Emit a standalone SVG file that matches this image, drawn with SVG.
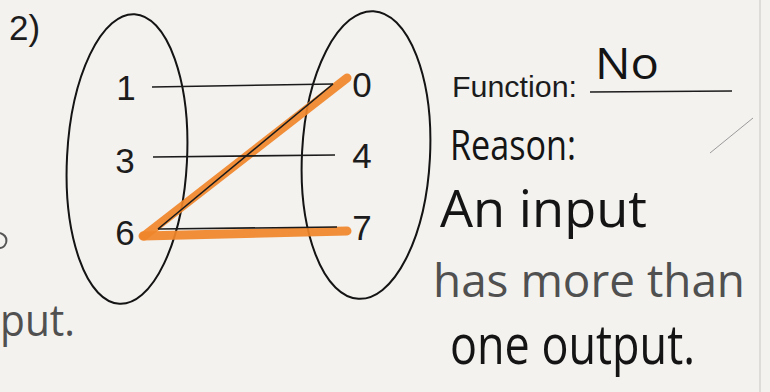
<svg xmlns="http://www.w3.org/2000/svg" width="770" height="392" viewBox="0 0 770 392">
  <style>
    .set { fill: none; stroke: #141414; stroke-width: 2; }
    .num { font-family: "Liberation Sans", Arial, sans-serif; font-size: 35px; fill: #1c1c1c; text-anchor: middle; }
    .print { font-family: "Liberation Sans", Arial, sans-serif; fill: #1c1c1c; }
    .hand { font-family: "Open Sans", "DejaVu Sans", sans-serif; font-weight: 400; fill: #141414; }
    .pencil { font-family: "Open Sans", "DejaVu Sans", sans-serif; font-weight: 400; fill: #505050; }
    .map { stroke: #1a1a1a; stroke-width: 1.6; fill: none; }
    .hl { stroke: #F0862A; stroke-width: 9; stroke-linecap: round; fill: none; opacity: 0.92; }
  </style>
  <rect width="770" height="392" fill="#F3F2EF"/>
  <line x1="760" y1="0" x2="760" y2="392" stroke="#d6d5d2" stroke-width="1.5"/>
  <line x1="710" y1="153" x2="753" y2="118" stroke="#9a9a9a" stroke-width="1"/>
  <path d="M0 233 Q8 236 6 243 Q4 248 0 248" fill="none" stroke="#555" stroke-width="2"/>

  <text class="print" x="9" y="40" font-size="35" fill="#333">2)</text>

  <g id="domain">
    <ellipse class="set" cx="127" cy="159" rx="60" ry="145" transform="rotate(3 127 159)"/>
  </g>
  <g id="range">
    <ellipse class="set" cx="366" cy="155" rx="64" ry="144" transform="rotate(3 366 155)"/>
  </g>

  <g id="connectors">
    <path class="hl" d="M144 236 L347 78"/>
    <path class="hl" d="M143 236 L347 231"/>
    <line class="map" x1="152" y1="87" x2="333" y2="84"/>
    <line class="map" x1="153" y1="157" x2="335" y2="155"/>
    <line class="map" x1="158" y1="229" x2="337" y2="227"/>
    <line class="map" x1="158" y1="229" x2="333" y2="84"/>
  </g>

  <g id="n1"><text class="num" x="126" y="100">1</text></g>
  <g id="n3"><text class="num" x="125" y="173">3</text></g>
  <g id="n6"><text class="num" x="125" y="245">6</text></g>
  <g id="n0"><text class="num" x="362" y="97">0</text></g>
  <g id="n4"><text class="num" x="362" y="168">4</text></g>
  <g id="n7"><text class="num" x="362" y="240">7</text></g>

  <g id="answer">
    <text class="print" x="452" y="97" font-size="30" textLength="125" lengthAdjust="spacingAndGlyphs">Function:</text>
    <line x1="590" y1="92" x2="732" y2="91" stroke="#1c1c1c" stroke-width="1.6"/>
    <text class="hand" x="595" y="79" font-size="44" textLength="64" lengthAdjust="spacingAndGlyphs">No</text>
    <text class="hand" x="450" y="160" font-size="42" textLength="126" lengthAdjust="spacingAndGlyphs">Reason:</text>
    <text class="hand" x="440" y="227" font-size="52" textLength="207" lengthAdjust="spacingAndGlyphs">An input</text>
    <text class="pencil" x="433" y="297" font-size="46" textLength="312" lengthAdjust="spacingAndGlyphs">has more than</text>
    <text class="hand" x="450" y="364" font-size="54" textLength="245" lengthAdjust="spacingAndGlyphs">one output.</text>
  </g>

  <text class="pencil" x="0" y="336" font-size="44" textLength="75" lengthAdjust="spacingAndGlyphs">put.</text>
</svg>
